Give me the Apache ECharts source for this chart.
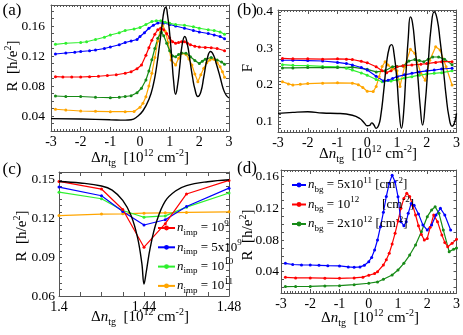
<!DOCTYPE html>
<html>
<head>
<meta charset="utf-8">
<script src="https://cdn.jsdelivr.net/npm/echarts@6/dist/echarts.min.js"></script>
<style>
html,body{margin:0;padding:0;background:#fff;}
#main{width:463px;height:335px;}
</style>
</head>
<body>
<div id="main"></div>
<script>
// ---- panel (a): R vs dn_tg ----
var aBlack = [[-3,0.0365],[-2,0.036],[-1,0.035],[-0.5,0.0345],[-0.3,0.035],[-0.1,0.039],[0.1,0.047],[0.3,0.062],[0.45,0.082],[0.56,0.106],[0.66,0.135],[0.74,0.160],[0.81,0.180],[0.87,0.185],[0.93,0.174],[1.0,0.150],[1.07,0.118],[1.13,0.088],[1.2,0.069],[1.27,0.082],[1.34,0.106],[1.42,0.135],[1.51,0.146],[1.6,0.135],[1.68,0.115],[1.77,0.092],[1.85,0.076],[1.95,0.066],[2.05,0.072],[2.15,0.092],[2.27,0.117],[2.38,0.126],[2.48,0.121],[2.57,0.110],[2.7,0.092],[2.8,0.077],[2.9,0.068],[3,0.064]];
var aRed = [[-2.85,0.0925],[-2.6,0.092],[-2.3,0.092],[-2.0,0.092],[-1.7,0.0925],[-1.4,0.093],[-1.1,0.094],[-0.8,0.095],[-0.5,0.097],[-0.3,0.099],[-0.1,0.103],[0.05,0.108],[0.2,0.121],[0.3,0.131],[0.4,0.141],[0.5,0.149],[0.6,0.155],[0.7,0.157],[0.8,0.155],[0.9,0.150],[1.0,0.144],[1.1,0.139],[1.2,0.137],[1.3,0.138],[1.4,0.139],[1.5,0.139],[1.6,0.137],[1.7,0.135],[1.85,0.133],[2.0,0.132],[2.2,0.1315],[2.4,0.131],[2.6,0.130],[2.85,0.127]];
var aBlue = [[-2.85,0.1227],[-2.5,0.124],[-2.2,0.125],[-2.0,0.126],[-1.7,0.127],[-1.5,0.128],[-1.2,0.130],[-1.0,0.132],[-0.7,0.135],[-0.5,0.138],[-0.3,0.140],[-0.1,0.142],[0.0,0.146],[0.15,0.151],[0.3,0.157],[0.45,0.161],[0.6,0.164],[0.8,0.164],[1.0,0.162],[1.2,0.160],[1.5,0.157],[1.8,0.154],[2.0,0.152],[2.3,0.150],[2.5,0.148],[2.7,0.146],[2.85,0.143]];
var aLime = [[-2.85,0.1356],[-2.5,0.137],[-2.0,0.138],[-1.8,0.139],[-1.5,0.142],[-1.2,0.145],[-1.0,0.148],[-0.7,0.151],[-0.5,0.154],[-0.2,0.156],[0.0,0.158],[0.2,0.162],[0.4,0.166],[0.55,0.167],[0.7,0.167],[0.85,0.165],[1.0,0.1636],[1.2,0.162],[1.5,0.161],[1.8,0.159],[2.0,0.157],[2.3,0.155],[2.5,0.154],[2.7,0.152],[2.85,0.149]];
var aGreen = [[-2.85,0.0667],[-2.5,0.066],[-2.0,0.066],[-1.5,0.065],[-1.0,0.0644],[-0.7,0.065],[-0.5,0.066],[-0.3,0.067],[-0.1,0.071],[0.05,0.077],[0.2,0.088],[0.3,0.100],[0.4,0.115],[0.5,0.130],[0.6,0.1436],[0.72,0.1516],[0.8,0.147],[0.9,0.137],[1.0,0.127],[1.1,0.120],[1.2,0.119],[1.3,0.122],[1.4,0.124],[1.55,0.1236],[1.7,0.119],[1.85,0.114],[2.0,0.110],[2.1,0.113],[2.2,0.1156],[2.4,0.118],[2.6,0.1147],[2.75,0.112],[2.85,0.109]];
var aOrange = [[-2.85,0.049],[-2.5,0.048],[-2.0,0.0467],[-1.5,0.0462],[-1.0,0.0458],[-0.5,0.0458],[-0.2,0.046],[0.0,0.0516],[0.1,0.057],[0.2,0.0658],[0.3,0.080],[0.4,0.097],[0.5,0.118],[0.6,0.140],[0.7,0.157],[0.77,0.1613],[0.85,0.153],[0.95,0.138],[1.05,0.1147],[1.2,0.108],[1.3,0.117],[1.4,0.1236],[1.55,0.122],[1.65,0.116],[1.75,0.108],[1.85,0.096],[1.95,0.0858],[2.05,0.095],[2.15,0.1036],[2.25,0.111],[2.35,0.1147],[2.5,0.1156],[2.6,0.111],[2.7,0.1058],[2.78,0.099],[2.85,0.0916]];

// ---- panel (b): Fano factor ----
var bBlack = [[-3,0.121],[-2.5,0.124],[-2.0,0.1255],[-1.5,0.122],[-1.0,0.121],[-0.5,0.116],[-0.25,0.107],[-0.1,0.095],[0.0,0.087],[0.08,0.088],[0.15,0.095],[0.22,0.09],[0.3,0.080],[0.38,0.088],[0.45,0.112],[0.55,0.180],[0.65,0.260],[0.75,0.304],[0.82,0.310],[0.9,0.285],[1.0,0.210],[1.07,0.130],[1.15,0.080],[1.22,0.120],[1.3,0.230],[1.38,0.330],[1.45,0.386],[1.52,0.370],[1.6,0.310],[1.7,0.222],[1.78,0.140],[1.86,0.089],[1.95,0.150],[2.05,0.260],[2.15,0.360],[2.25,0.400],[2.35,0.380],[2.45,0.320],[2.55,0.249],[2.65,0.170],[2.75,0.110],[2.85,0.086],[2.93,0.095],[3,0.121]];
var bRed = [[-2.85,0.272],[-2.5,0.271],[-2.0,0.271],[-1.5,0.270],[-1.0,0.271],[-0.7,0.270],[-0.5,0.269],[-0.2,0.264],[0.0,0.26],[0.3,0.249],[0.5,0.238],[0.65,0.233],[0.8,0.238],[1.0,0.249],[1.2,0.252],[1.5,0.254],[1.8,0.256],[2.0,0.258],[2.3,0.261],[2.5,0.263],[2.85,0.263]];
var bBlue = [[-2.85,0.267],[-2.5,0.267],[-2.0,0.266],[-1.5,0.265],[-1.0,0.261],[-0.7,0.258],[-0.5,0.254],[-0.2,0.247],[0.0,0.240],[0.3,0.223],[0.55,0.210],[0.7,0.212],[0.85,0.217],[1.0,0.222],[1.25,0.227],[1.5,0.231],[1.75,0.235],[2.0,0.238],[2.25,0.240],[2.5,0.243],[2.85,0.245]];
var bGreen = [[-2.85,0.246],[-2.5,0.246],[-2.0,0.247],[-1.5,0.247],[-1.0,0.247],[-0.5,0.248],[0.0,0.242],[0.3,0.235],[0.6,0.238],[0.85,0.249],[1.0,0.25],[1.2,0.251],[1.4,0.265],[1.6,0.269],[1.75,0.266],[1.9,0.263],[2.05,0.270],[2.2,0.276],[2.4,0.276],[2.6,0.27],[2.85,0.255]];
var bLime = [[-2.85,0.255],[-2.5,0.253],[-2.0,0.252],[-1.5,0.250],[-1.0,0.249],[-0.7,0.245],[-0.5,0.240],[-0.2,0.232],[0.0,0.226],[0.3,0.214],[0.5,0.208],[0.8,0.210],[1.0,0.213],[1.25,0.218],[1.5,0.222],[1.75,0.226],[2.0,0.229],[2.25,0.231],[2.5,0.233],[2.85,0.238]];
var bOrange = [[-2.85,0.208],[-2.65,0.202],[-2.5,0.199],[-2.25,0.201],[-2.0,0.203],[-1.5,0.204],[-1.0,0.205],[-0.5,0.204],[-0.3,0.200],[-0.15,0.192],[0.0,0.182],[0.2,0.181],[0.3,0.195],[0.4,0.222],[0.5,0.250],[0.6,0.263],[0.7,0.254],[0.85,0.243],[1.0,0.238],[1.1,0.195],[1.25,0.249],[1.45,0.297],[1.6,0.286],[1.8,0.231],[1.95,0.212],[2.1,0.267],[2.3,0.304],[2.45,0.295],[2.65,0.249],[2.85,0.199]];

// ---- panel (c): zoom on the resonance, different n_imp ----
var cX = [1.4,1.42,1.43,1.44,1.45,1.46,1.48];
var cImp9 = [0.1487,0.1428,0.127,0.0978,0.116,0.139,0.1495];
var cImp5e9 = [0.1443,0.1376,0.1254,0.115,0.119,0.1293,0.1435];
var cImp10 = [0.1404,0.1353,0.1262,0.121,0.122,0.1288,0.1397];
var cImp11 = [0.1223,0.1234,0.1236,0.1241,0.1244,0.1247,0.1252];
var cBlack = [[1.4,0.1487],[1.41,0.1475],[1.42,0.1452],[1.425,0.142],[1.43,0.134],[1.434,0.122],[1.437,0.105],[1.439,0.085],[1.44,0.0693],[1.441,0.078],[1.443,0.098],[1.446,0.118],[1.45,0.1335],[1.455,0.1415],[1.46,0.1455],[1.47,0.1485],[1.48,0.150]];

// ---- panel (d): different n_bg ----
var dBg5e11 = [[-2.85,0.0505],[-2.6,0.049],[-2.3,0.0485],[-2.0,0.0484],[-1.7,0.048],[-1.4,0.0475],[-1.0,0.0472],[-0.7,0.046],[-0.5,0.0455],[-0.3,0.046],[-0.15,0.048],[0.0,0.0526],[0.1,0.058],[0.2,0.0674],[0.3,0.080],[0.4,0.0968],[0.5,0.115],[0.6,0.135],[0.7,0.1516],[0.8,0.162],[0.9,0.1537],[1.0,0.1347],[1.1,0.1032],[1.2,0.098],[1.28,0.103],[1.35,0.1137],[1.45,0.1263],[1.55,0.124],[1.7,0.113],[1.85,0.099],[2.0,0.0926],[2.15,0.099],[2.3,0.1116],[2.45,0.12],[2.6,0.1116],[2.8,0.0926]];
var dBg1e12 = [[-2.85,0.0328],[-2.5,0.032],[-2.0,0.032],[-1.5,0.0318],[-1.0,0.0316],[-0.5,0.032],[-0.2,0.033],[0.0,0.0354],[0.2,0.0375],[0.3,0.040],[0.5,0.0484],[0.6,0.055],[0.7,0.0632],[0.8,0.075],[0.9,0.0884],[1.0,0.104],[1.1,0.120],[1.2,0.1326],[1.3,0.139],[1.4,0.135],[1.5,0.124],[1.6,0.1116],[1.7,0.098],[1.8,0.087],[1.9,0.080],[2.0,0.082],[2.1,0.096],[2.22,0.1116],[2.35,0.1032],[2.5,0.0863],[2.6,0.077],[2.7,0.0716],[2.85,0.0758],[3,0.0808]];
var dBg2e12 = [[-2.85,0.0211],[-2.5,0.0212],[-2.0,0.0213],[-1.5,0.022],[-1.0,0.0223],[-0.5,0.0235],[0.0,0.0253],[0.3,0.027],[0.5,0.0303],[0.8,0.0358],[1.0,0.0421],[1.2,0.0505],[1.4,0.061],[1.6,0.0737],[1.8,0.0905],[2.0,0.1095],[2.15,0.118],[2.27,0.122],[2.4,0.1137],[2.55,0.0926],[2.75,0.0653],[2.9,0.0682],[3,0.07]];

// tick labels
var xTicksWide = [-3,-2,-1,0,1,2,3];
var cXTicks = [1.4,1.44,1.48];
var aYTicks = [0.04,0.08,0.12,0.16];
var bYTicks = [0.1,0.2,0.3,0.4];
var cYTicks = [0.06,0.09,0.12,0.15];
var dYTicks = [0.04,0.08,0.12,0.16];

var RED = '#ff0000', BLUE = '#0000ff', LIME = '#2ef02e', GREEN = '#168a16', ORANGE = '#ffa500', BLACK = '#000';
var FONT = 'Liberation Serif';
var FRAME = '#555';

var chart = echarts.init(document.getElementById('main'));

function steps(lo, hi, st) {
    var arr = [];
    for (var k = Math.ceil(lo / st - 1e-9); k * st <= hi + 1e-9; k++) arr.push(+(k * st).toFixed(5));
    return arr;
}

var rich = {
    i: {fontFamily: FONT, fontStyle: 'italic', fontSize: 15, lineHeight: 20},
    sub: {fontFamily: FONT, fontSize: 10, verticalAlign: 'bottom', lineHeight: 10},
    sup: {fontFamily: FONT, fontSize: 10, verticalAlign: 'top', lineHeight: 10}
};
var richLeg = {
    i: {fontFamily: FONT, fontStyle: 'italic', fontSize: 13, lineHeight: 18},
    sub: {fontFamily: FONT, fontSize: 9, verticalAlign: 'bottom', lineHeight: 9},
    sup: {fontFamily: FONT, fontSize: 9, verticalAlign: 'top', lineHeight: 9}
};

var grids = [
    {left: 51, top: 5, width: 178, height: 126},
    {left: 278, top: 10, width: 179, height: 122},
    {left: 59, top: 172, width: 170, height: 124},
    {left: 281, top: 170, width: 177, height: 123}
];
var xr = [[-3, 3], [-3, 3], [1.4, 1.48], [-3, 3]];
var yr = [[0.02, 0.188], [0.07, 0.405], [0.06, 0.156], [0.013, 0.1685]];
var yLab = [aYTicks, bYTicks, cYTicks, dYTicks];
var yStep = [0.01, 0.01, 0.005, 0.01];
var yMargin = [6, 5, 4, 2];

var xAxes = [], yAxes = [];
for (var g = 0; g < 4; g++) {
    for (var m = 0; m < 2; m++) {
        var mirror = m === 1;
        var xa = {
            type: 'value', gridIndex: g, min: xr[g][0], max: xr[g][1],
            position: mirror ? 'top' : 'bottom',
            splitLine: {show: false},
            axisLine: {onZero: false, lineStyle: {color: FRAME, width: 1}},
            axisTick: {inside: true, length: 4, lineStyle: {color: FRAME}},
            axisLabel: {show: !mirror, color: '#000', fontFamily: FONT, fontSize: 14, margin: 4}
        };
        if (g === 2) {
            xa.axisLabel.customValues = cXTicks;
            xa.axisLabel.showMinLabel = true;
            xa.axisLabel.showMaxLabel = true;
            xa.axisTick.customValues = steps(1.4, 1.48, 0.01);
        } else {
            xa.interval = 1;
            xa.axisLabel.customValues = xTicksWide;
            xa.axisTick.customValues = xTicksWide;
            xa.minorTick = {show: true, splitNumber: 10, length: 2, lineStyle: {color: FRAME}};
        }
        xAxes.push(xa);
        yAxes.push({
            type: 'value', gridIndex: g, min: yr[g][0], max: yr[g][1],
            position: mirror ? 'right' : 'left',
            splitLine: {show: false},
            axisLine: {onZero: false, lineStyle: {color: FRAME, width: 1}},
            axisTick: {inside: true, length: 3, customValues: steps(yr[g][0], yr[g][1], yStep[g]), lineStyle: {color: FRAME}},
            axisLabel: {show: !mirror, customValues: yLab[g], color: '#000', fontFamily: FONT, fontSize: 13.5, margin: yMargin[g]}
        });
    }
}

function line(name, g, data, color, sym, smooth) {
    return {
        name: name, type: 'line', xAxisIndex: g * 2, yAxisIndex: g * 2,
        data: data, color: color, smooth: smooth || false,
        showSymbol: sym, symbol: 'circle', symbolSize: 3,
        lineStyle: {width: sym ? 1.2 : 1.4, color: color},
        itemStyle: {color: color}, animation: false, z: sym ? 2 : 3
    };
}
function cPairs(ys) {
    return cX.map(function (x, i) { return [x, ys[i]]; });
}

var legendNames = {
    imp9: '{i|n}{sub|imp} = 10{sup|9}',
    imp5e9: '{i|n}{sub|imp} = 5x10{sup|9}',
    imp10: '{i|n}{sub|imp} = 10{sup|10}',
    imp11: '{i|n}{sub|imp} = 10{sup|11}',
    bg5e11: '{i|n}{sub|bg} = 5x10{sup|11} [cm{sup|-2}]',
    bg1e12: '{i|n}{sub|bg} = 10{sup|12}       [cm{sup|-2}]',
    bg2e12: '{i|n}{sub|bg} = 2x10{sup|12} [cm{sup|-2}]'
};

var xTitle = 'Δ{i|n}{sub|tg}  [10{sup|12} cm{sup|-2}]';
var rTitle = 'R  [h/e{sup|2}]';

function txt(text, x, y, rot, size) {
    return {
        type: 'text', x: x, y: y, rotation: rot || 0, silent: true,
        style: {
            text: text, rich: rich, fill: '#000',
            font: (size || 15) + 'px "' + FONT + '"', lineHeight: 20,
            textAlign: 'center', textVerticalAlign: 'middle', align: 'center', verticalAlign: 'middle'
        }
    };
}

var option = {
    backgroundColor: '#fff',
    animation: false,
    grid: grids,
    xAxis: xAxes,
    yAxis: yAxes,
    legend: [{
        data: ['imp9', 'imp5e9', 'imp10', 'imp11'],
        orient: 'vertical', left: 152, top: 214, itemWidth: 17, itemHeight: 6, itemGap: 1.3,
        formatter: function (n) { return legendNames[n]; },
        textStyle: {fontFamily: FONT, fontSize: 13, lineHeight: 18, color: '#000', rich: richLeg, padding: [0, 0, 0, -3]}
    }, {
        data: ['bg5e11', 'bg1e12', 'bg2e12'],
        orient: 'vertical', left: 286, top: 171, itemWidth: 14, itemHeight: 6, itemGap: 1.5,
        formatter: function (n) { return legendNames[n]; },
        textStyle: {fontFamily: FONT, fontSize: 13, lineHeight: 18, color: '#000', rich: richLeg, padding: [0, 0, 0, -3]}
    }],
    graphic: [
        txt('(a)', 12, 11, 0, 17),
        txt('(b)', 247, 11, 0, 17),
        txt('(c)', 12, 170, 0, 17),
        txt('(d)', 247, 169, 0, 17),
        txt(xTitle, 140, 158),
        txt(xTitle, 368, 154),
        txt(xTitle, 140, 317),
        txt(xTitle, 370, 318),
        txt(rTitle, 13, 66, Math.PI / 2),
        txt('F', 248, 68, Math.PI / 2),
        txt(rTitle, 22, 236, Math.PI / 2),
        txt(rTitle, 248, 235, Math.PI / 2)
    ],
    series: [
        line('a-orange', 0, aOrange, ORANGE, true),
        line('a-green', 0, aGreen, GREEN, true),
        line('a-red', 0, aRed, RED, true),
        line('a-blue', 0, aBlue, BLUE, true),
        line('a-lime', 0, aLime, LIME, true),
        line('a-black', 0, aBlack, BLACK, false, 0.5),

        line('b-orange', 1, bOrange, ORANGE, true),
        line('b-lime', 1, bLime, LIME, true),
        line('b-green', 1, bGreen, GREEN, true),
        line('b-blue', 1, bBlue, BLUE, true),
        line('b-red', 1, bRed, RED, true),
        line('b-black', 1, bBlack, BLACK, false, 0.5),

        line('c-black', 2, cBlack, BLACK, false, 0.4),
        line('imp11', 2, cPairs(cImp11), ORANGE, true),
        line('imp10', 2, cPairs(cImp10), LIME, true),
        line('imp5e9', 2, cPairs(cImp5e9), BLUE, true),
        line('imp9', 2, cPairs(cImp9), RED, true),

        line('bg2e12', 3, dBg2e12, GREEN, true),
        line('bg1e12', 3, dBg1e12, RED, true),
        line('bg5e11', 3, dBg5e11, BLUE, true)
    ]
};
chart.setOption(option);
</script>
</body>
</html>
